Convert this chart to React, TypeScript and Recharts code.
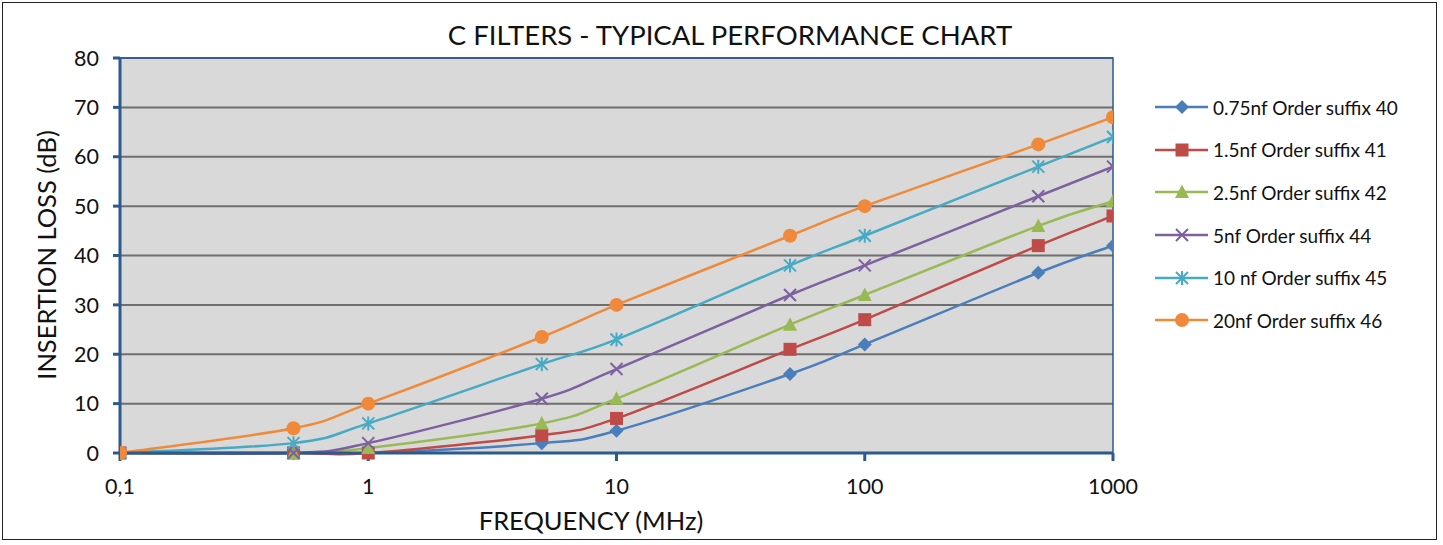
import React from "react";
import {
  CartesianGrid,
  Line,
  LineChart,
  ReferenceArea,
  XAxis,
  YAxis,
} from "recharts";

const frequencies = [0.1, 0.5, 1, 5, 10, 50, 100, 500, 1000];
const suffix40 = [0, 0, 0, 2, 4.5, 16, 22, 36.5, 42];
const suffix41 = [0, 0, 0, 3.6, 7, 21, 27, 42, 48];
const suffix42 = [0, 0, 1, 6, 11, 26, 32, 46, 51];
const suffix44 = [0, 0, 2, 11, 17, 32, 38, 52, 58];
const suffix45 = [0, 2, 6, 18, 23, 38, 44, 58, 64];
const suffix46 = [0, 5, 10, 23.5, 30, 44, 50, 62.5, 68];

const xTicks = [0.1, 1, 10, 100, 1000];
const yTicks = [0, 10, 20, 30, 40, 50, 60, 70, 80];

const seriesList = [
  { key: "s40", name: "0.75nf Order suffix 40", values: suffix40, color: "#4A7EBB", marker: "diamond" },
  { key: "s41", name: "1.5nf Order suffix 41", values: suffix41, color: "#BE4B48", marker: "square" },
  { key: "s42", name: "2.5nf Order suffix 42", values: suffix42, color: "#98B954", marker: "triangle" },
  { key: "s44", name: "5nf Order suffix 44", values: suffix44, color: "#7D60A0", marker: "cross" },
  { key: "s45", name: "10 nf Order suffix 45", values: suffix45, color: "#46AAC5", marker: "star" },
  { key: "s46", name: "20nf Order suffix 46", values: suffix46, color: "#F08A3A", marker: "circle" },
];

const data = frequencies.map((f, i) => {
  const row: Record<string, number> = { f };
  seriesList.forEach((s) => (row[s.key] = s.values[i]));
  return row;
});

const FONT = "Lato, 'Open Sans', sans-serif";
const AXIS = "#2A5A8E";

// Excel-style smoothed line (uniform Catmull-Rom through the scaled points)
function excelSmooth(context: any) {
  let pts: number[][] = [];
  return {
    areaStart() {},
    areaEnd() {},
    lineStart() {
      pts = [];
    },
    point(x: number, y: number) {
      pts.push([+x, +y]);
    },
    lineEnd() {
      if (!pts.length) return;
      context.moveTo(pts[0][0], pts[0][1]);
      for (let i = 0; i < pts.length - 1; i++) {
        const p0 = pts[Math.max(i - 1, 0)];
        const p1 = pts[i];
        const p2 = pts[i + 1];
        const p3 = pts[Math.min(i + 2, pts.length - 1)];
        context.bezierCurveTo(
          p1[0] + (p2[0] - p0[0]) / 6,
          p1[1] + (p2[1] - p0[1]) / 6,
          p2[0] - (p3[0] - p1[0]) / 6,
          p2[1] - (p3[1] - p1[1]) / 6,
          p2[0],
          p2[1]
        );
      }
    },
  };
}

function Marker({ kind, x, y, color }: { kind: string; x: number; y: number; color: string }) {
  switch (kind) {
    case "diamond":
      return <path d={`M${x},${y - 7}L${x + 7},${y}L${x},${y + 7}L${x - 7},${y}Z`} fill={color} />;
    case "square":
      return <rect x={x - 6.5} y={y - 6.5} width={13} height={13} fill={color} />;
    case "triangle":
      return <path d={`M${x},${y - 7.5}L${x + 7},${y + 6}L${x - 7},${y + 6}Z`} fill={color} />;
    case "cross":
      return (
        <path
          d={`M${x - 6},${y - 6}L${x + 6},${y + 6}M${x - 6},${y + 6}L${x + 6},${y - 6}`}
          stroke={color}
          strokeWidth={2}
        />
      );
    case "star":
      return (
        <path
          d={`M${x - 6},${y - 6}L${x + 6},${y + 6}M${x - 6},${y + 6}L${x + 6},${y - 6}M${x},${y - 7}L${x},${y + 7}`}
          stroke={color}
          strokeWidth={2}
        />
      );
    default:
      return <circle cx={x} cy={y} r={7} fill={color} />;
  }
}

function makeDot(kind: string, color: string) {
  return (props: any) => {
    const { cx, cy, index } = props;
    if (cx == null || cy == null) return <g key={index} />;
    return (
      <g key={index}>
        <Marker kind={kind} x={cx} y={cy} color={color} />
      </g>
    );
  };
}

function LegendBox() {
  return (
    <div
      style={{
        position: "absolute",
        left: 1155,
        top: 86,
        fontFamily: FONT,
        fontSize: 19,
        color: "#111",
      }}
    >
      {seriesList.map((s) => (
        <div key={s.key} style={{ display: "flex", alignItems: "center", height: 42.6 }}>
          <svg width={56} height={20} style={{ flex: "none" }}>
            <line x1={0} y1={10} x2={53} y2={10} stroke={s.color} strokeWidth={2.5} />
            <Marker kind={s.marker} x={27} y={10} color={s.color} />
          </svg>
          <span style={{ marginLeft: 2, whiteSpace: "nowrap" }}>{s.name}</span>
        </div>
      ))}
    </div>
  );
}

export default function App() {
  return (
    <div style={{ position: "absolute", left: 0, top: 0, width: 1443, height: 545, background: "#fff" }}>
      <div
        style={{
          position: "absolute",
          left: 2,
          top: 2,
          width: 1435,
          height: 538,
          border: "1.5px solid #222",
          boxSizing: "border-box",
        }}
      />
      <LineChart
        width={1443}
        height={545}
        data={data}
        margin={{ top: 58, right: 330, bottom: 32, left: 40 }}
        style={{ position: "absolute", left: 0, top: 0 }}
      >
        <CartesianGrid vertical={false} fill="#D9D9D9" stroke="#6F6F6F" strokeWidth={2} />
        <ReferenceArea x1={0.1} x2={1000} y1={0} y2={80} fill="none" stroke={AXIS} strokeWidth={1.5} />
        <XAxis
          dataKey="f"
          type="number"
          scale="log"
          domain={[0.1, 1000]}
          ticks={xTicks}
          tickFormatter={(v: number) => (v < 1 ? "0,1" : String(v))}
          allowDataOverflow
          height={60}
          stroke={AXIS}
          strokeWidth={3}
          tickSize={8}
          tickMargin={18}
          tick={{ fill: "#111", fontSize: 21.5, fontFamily: FONT }}
        />
        <YAxis
          type="number"
          domain={[0, 80]}
          ticks={yTicks}
          width={80}
          stroke={AXIS}
          strokeWidth={3}
          tickSize={7}
          tickMargin={14}
          tick={{ fill: "#111", fontSize: 21.5, fontFamily: FONT }}
        />
        {seriesList.map((s) => (
          <Line
            key={s.key}
            dataKey={s.key}
            name={s.name}
            type={excelSmooth as any}
            stroke={s.color}
            strokeWidth={2.5}
            dot={makeDot(s.marker, s.color)}
            activeDot={false}
            isAnimationActive={false}
          />
        ))}
      </LineChart>
      <div
        style={{
          position: "absolute",
          left: 0,
          width: 1460,
          top: 18,
          textAlign: "center",
          fontFamily: FONT,
          fontSize: 27.5,
          color: "#111",
        }}
      >
        C FILTERS - TYPICAL PERFORMANCE CHART
      </div>
      <div
        style={{
          position: "absolute",
          left: 46,
          top: 255,
          transform: "translate(-50%, -50%) rotate(-90deg)",
          whiteSpace: "nowrap",
          fontFamily: FONT,
          fontSize: 25.5,
          color: "#111",
        }}
      >
        INSERTION LOSS (dB)
      </div>
      <div
        style={{
          position: "absolute",
          left: 591,
          top: 520,
          transform: "translate(-50%, -50%)",
          whiteSpace: "nowrap",
          fontFamily: FONT,
          fontSize: 25.5,
          color: "#111",
        }}
      >
        FREQUENCY (MHz)
      </div>
      <LegendBox />
    </div>
  );
}
